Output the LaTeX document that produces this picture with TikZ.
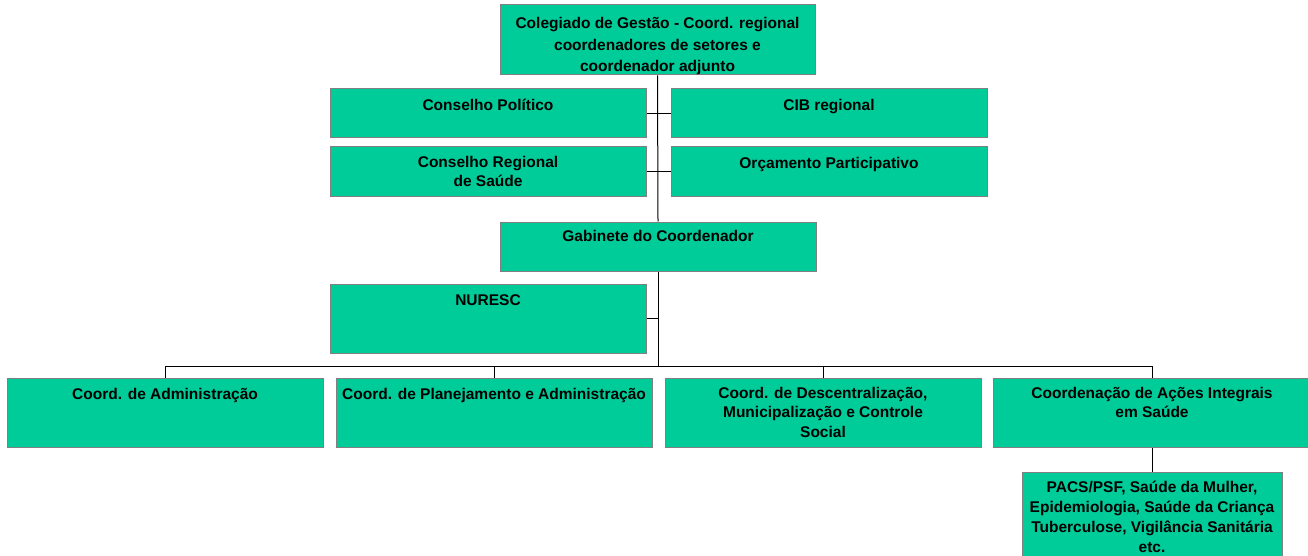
\documentclass[tikz,border=0pt]{standalone}
\usepackage{fontspec}
\setmainfont{Liberation Sans}
\usetikzlibrary{backgrounds}
\definecolor{boxgreen}{RGB}{0,204,153}
\definecolor{boxedge}{RGB}{128,128,128}
\begin{document}
\begin{tikzpicture}[x=1pt,y=-1pt,
  box/.style={draw=boxedge, line width=1pt, fill=boxgreen, rectangle, inner sep=0pt, minimum width=316pt},
  txt/.style={anchor=north, align=center, inner sep=0pt, text=black,
    font=\bfseries\fontsize{15.5}{19.5}\selectfont,
    execute at begin node={\rule{0pt}{12pt}}},
  conn/.style={draw=black, line width=1pt}]
\useasboundingbox (0,0) rectangle (1308,556);

% boxes
\node[box, minimum width=315pt, minimum height=70pt] (top) at (657.5,40) {};
\node[box, minimum height=49pt] (polit) at (488,113.5) {};
\node[box, minimum height=49pt] (cib) at (829,113.5) {};
\node[box, minimum height=49pt] (creg) at (488,171.5) {};
\node[box, minimum height=49pt] (orc) at (829,171.5) {};
\node[box, minimum height=49pt] (gab) at (658,246.5) {};
\node[box, minimum height=69pt] (nuresc) at (488,318.5) {};
\node[box, minimum height=69pt] (adm) at (165,412.5) {};
\node[box, minimum height=69pt] (plan) at (494,412.5) {};
\node[box, minimum height=69pt] (desc) at (823,412.5) {};
\node[box, minimum width=318pt, minimum height=69pt] (acoes) at (1152,412.5) {};
\node[box, minimum width=260pt, minimum height=110pt] (pacs) at (1152,527) {};

% texts
\node[txt, font=\bfseries\fontsize{15.5}{21.7}\selectfont] (ttop) at ([yshift=-12.5pt]top.north)
  {Colegiado de Gestão - Coord. regional\\coordenadores de setores e\\coordenador adjunto};
\node[txt] (tpolit) at ([yshift=-9.5pt]polit.north) {Conselho Político};
\node[txt] (tcib) at ([yshift=-9.5pt]cib.north) {CIB regional};
\node[txt] (tcreg) at ([yshift=-9.5pt]creg.north) {Conselho Regional\\de Saúde};
\node[txt] (torc) at ([yshift=-9.5pt]orc.north) {Orçamento Participativo};
\node[txt] (tgab) at ([yshift=-8pt]gab.north) {Gabinete do Coordenador};
\node[txt] (tnuresc) at ([yshift=-9.5pt]nuresc.north) {NURESC};
\node[txt] (tadm) at ([yshift=-9.5pt]adm.north) {Coord. de Administração};
\node[txt] (tplan) at ([yshift=-9.5pt]plan.north) {Coord. de Planejamento e Administração};
\node[txt] (tdesc) at ([yshift=-9.5pt]desc.north) {Coord. de Descentralização,\\Municipalização e Controle\\Social};
\node[txt] (tacoes) at ([yshift=-9.5pt]acoes.north) {Coordenação de Ações Integrais\\em Saúde};
\node[txt, font=\bfseries\fontsize{15.5}{20}\selectfont] (tpacs) at ([yshift=-9pt]pacs.north)
  {PACS/PSF, Saúde da Mulher,\\Epidemiologia, Saúde da Criança\\Tuberculose, Vigilância Sanitária\\etc.};

\coordinate (bus) at (658,366);

% connectors behind the boxes
\begin{scope}[on background layer]
  \draw[conn] (top.south) -- (gab.north);
  \draw[conn] (gab.south) -- (bus);
  \draw[conn] (polit.east) -- (cib.west);
  \draw[conn] (creg.east) -- (orc.west);
  \draw[conn] (nuresc.east) -- (nuresc.east -| bus);
  \draw[conn] (bus) -| (adm.north);
  \draw[conn] (bus) -| (plan.north);
  \draw[conn] (bus) -| (desc.north);
  \draw[conn] (bus) -| (acoes.north);
  \draw[conn] (acoes.south) -- (pacs.north);
\end{scope}
\end{tikzpicture}
\end{document}
